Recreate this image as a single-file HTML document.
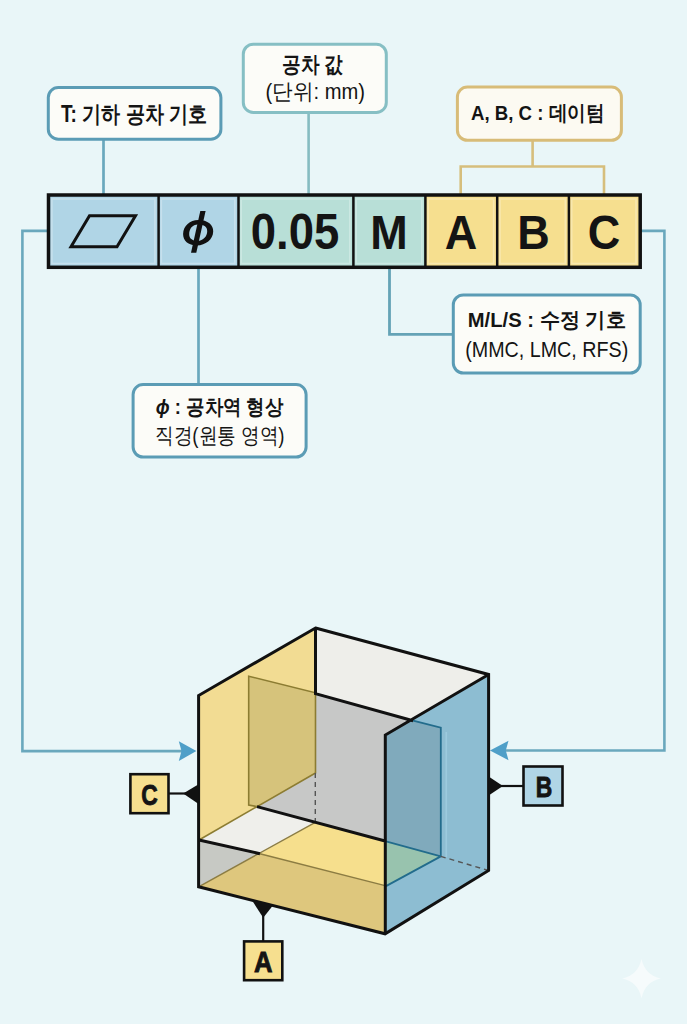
<!DOCTYPE html>
<html><head><meta charset="utf-8">
<style>
html,body{margin:0;padding:0;width:687px;height:1024px;overflow:hidden;background:#e9f6f8;}
svg{display:block;}
text{font-family:"Liberation Sans", sans-serif;fill:#141414;}
.b{font-weight:bold;}
</style></head>
<body>
<svg width="687" height="1024" viewBox="0 0 687 1024">
<rect x="0" y="0" width="687" height="1024" fill="#e9f6f8"/>

<!-- leader lines -->
<g fill="none">
<path d="M103.5 139 V195" stroke="#6aa8bd" stroke-width="2.7"/>
<path d="M308.6 112 V195" stroke="#86bcc1" stroke-width="2.6"/>
<path d="M532.6 139 V166.5 M460.7 195 V166.5 H604 V195" stroke="#d6be7c" stroke-width="2.6"/>
<path d="M198.5 268 V385" stroke="#6aa8bd" stroke-width="2.7"/>
<path d="M389.5 268 V334.3 H455" stroke="#65a3b6" stroke-width="2.8"/>
<path d="M48 230.9 H22.4 V751.1 H182" stroke="#6aa8bd" stroke-width="2.6"/>
<path d="M639 230.9 H664.4 V750.5 H505" stroke="#6aa8bd" stroke-width="2.6"/>
</g>
<path d="M196.4 751.1 L178.8 741.3 L181.5 751.1 L178.8 760.9 Z" fill="#4f9fc8"/>
<path d="M490 750.5 L508.5 740.7 L505.8 750.5 L508.5 760.3 Z" fill="#4f9fc8"/>

<!-- callout boxes -->
<rect x="48.3" y="87.6" width="172.6" height="51.6" rx="10" fill="#fcfcf8" stroke="#5b9cb5" stroke-width="3"/>
<text x="61" y="121.7" class="b" font-size="23" textLength="146" lengthAdjust="spacingAndGlyphs">T: 기하 공차 기호</text>

<rect x="243.3" y="44.2" width="143" height="68.2" rx="10" fill="#fcfcf8" stroke="#86bfc4" stroke-width="3"/>
<text x="282" y="72" class="b" font-size="22" textLength="61" lengthAdjust="spacingAndGlyphs">공차 값</text>
<text x="265.5" y="99" font-size="21.5" textLength="99.5" lengthAdjust="spacingAndGlyphs">(단위: mm)</text>

<rect x="457.4" y="87.1" width="164" height="53.2" rx="10" fill="#fcfaf2" stroke="#d8bc78" stroke-width="3"/>
<text x="471" y="120" class="b" font-size="21" textLength="133.5" lengthAdjust="spacingAndGlyphs">A, B, C : 데이텀</text>

<rect x="133.1" y="384.6" width="173" height="72.5" rx="10" fill="#fcfcf8" stroke="#5b9cb5" stroke-width="3"/>
<text x="155.8" y="413.8" class="b" font-size="21" textLength="127.5" lengthAdjust="spacingAndGlyphs"><tspan font-style="italic">ϕ</tspan> : 공차역 형상</text>
<text x="155" y="442.5" font-size="22" textLength="129.5" lengthAdjust="spacingAndGlyphs">직경(원통 영역)</text>

<rect x="453.3" y="295" width="186.9" height="78.1" rx="10" fill="#fcfcf8" stroke="#5b9cb5" stroke-width="3"/>
<text x="467.8" y="326.5" class="b" font-size="21" textLength="158" lengthAdjust="spacingAndGlyphs">M/L/S : 수정 기호</text>
<text x="465.2" y="357.3" font-size="22" textLength="163" lengthAdjust="spacingAndGlyphs">(MMC, LMC, RFS)</text>

<!-- feature control frame -->
<g>
<rect x="48.7" y="195" width="109.4" height="72.3" fill="#b0d5e6"/>
<rect x="158.1" y="195" width="79.9" height="72.3" fill="#b0d5e6"/>
<rect x="238" y="195" width="115" height="72.3" fill="#b8dfd7"/>
<rect x="353" y="195" width="72" height="72.3" fill="#b8dfd7"/>
<rect x="425" y="195" width="215" height="72.3" fill="#f6df8f"/>
<g fill="none" stroke="#ffffff" stroke-opacity="0.28" stroke-width="1.6"><rect x="51.9" y="199" width="103.0" height="64.5"/><rect x="161.3" y="199" width="73.5" height="64.5"/><rect x="241.2" y="199" width="108.6" height="64.5"/><rect x="356.2" y="199" width="65.6" height="64.5"/><rect x="428.2" y="199" width="65.4" height="64.5"/><rect x="500.0" y="199" width="65.3" height="64.5"/><rect x="571.7" y="199" width="64.3" height="64.5"/></g>
<rect x="48.5" y="195" width="591.7" height="72.3" fill="none" stroke="#111" stroke-width="3.5"/>
<path d="M158.6 195V267 M238.5 195V267 M353.4 195V267 M425.4 195V267 M497.2 195V267 M568.9 195V267" stroke="#111" stroke-width="2.5"/>
<path d="M71 246.8 L89.5 215.7 L135.5 215.7 L117 246.8 Z" fill="none" stroke="#111" stroke-width="3" stroke-linejoin="miter"/>
<g fill="#111"><path fill-rule="evenodd" d="M198.2 220.1 C208 220.1 213.4 225 213.2 231.5 C213 239.5 205.5 245.4 197 245.4 C188 245.4 183 240.5 183.1 234 C183.3 226 190 220.1 198.2 220.1 Z M197.8 224.6 C192.5 224.6 189.2 229 189.2 234.2 C189.2 238.3 192 240.8 197.5 240.8 C203.5 240.8 207.2 236 207.2 231.2 C207.2 227 204.5 224.6 197.8 224.6 Z"/><path d="M200.3 210.9 H205.6 L196.3 252.8 H191 Z"/></g>
<text transform="translate(295 249) scale(1 1.07)" text-anchor="middle" class="b" font-size="46" textLength="88.5" lengthAdjust="spacingAndGlyphs">0.05</text>
<text transform="translate(389 249) scale(1 1.06)" text-anchor="middle" class="b" font-size="45">M</text>
<text transform="translate(461 249) scale(1 1.06)" text-anchor="middle" class="b" font-size="45">A</text>
<text transform="translate(533.5 249) scale(1 1.06)" text-anchor="middle" class="b" font-size="45">B</text>
<text transform="translate(604 249) scale(1 1.06)" text-anchor="middle" class="b" font-size="45">C</text>
</g>

<!-- CUBE -->
<g id="cube">
<polygon points="315.5,628 488.6,674.5 413.1,720.7 315.5,693.6" fill="#eeeeea"/>
<polygon points="315.5,693.6 413.1,720.7 385.3,735 385.1,841.3 257,806.6 315.5,773" fill="#c7c8c7"/>
<polygon points="198.6,695.5 315.5,628 315.5,773 257,806.6 199,840" fill="#f2dc93"/>
<polygon points="248.7,676.2 315.5,692.8 315.5,773 257,806.6 248.7,805" fill="#d6c37b" stroke="#8c7c32" stroke-width="1.6"/>
<polygon points="199,840 257,806.6 315.3,822.4 259.9,853.7" fill="#efefeb"/>
<polygon points="315.3,822.4 385.1,841.3 385.1,885.6 259.9,853.7" fill="#f6df8d"/>
<polygon points="199,840 259.9,853.7 198.6,886.8" fill="#c7c9c4"/>
<polygon points="198.6,886.8 259.9,853.7 385.1,885.6 385.1,933.8" fill="#dec77d"/>
<polygon points="385.3,735 488.6,674.5 488.6,870.5 385.1,933.8" fill="#8dbdd2"/>
<polygon points="385.3,735 413.1,720.7 440.8,727.7 440.8,856.4 386,886.1" fill="#80aabc"/>
<polygon points="386,841.3 440,856 386,886.1" fill="#98c3ae"/>
<path d="M446.3,732 V857" stroke="#9ccade" stroke-width="1.6" fill="none"/>
<path d="M413.1,720.7 L440.8,727.7 V856.4 L386,886.1 M386,841.3 L440.8,856.4" stroke="#226c8c" stroke-width="1.8" fill="none"/>
<path d="M199,840 L259.9,853.7 L385.1,885.6 M198.6,886.8 L315.3,822.4" stroke="#8c7c42" stroke-width="1.4" fill="none"/>
<path d="M199,840 L257,806.6" stroke="#8c7c32" stroke-width="1.6" fill="none"/>
<path d="M315.3,773 V822 M440.8,856.4 L488.6,870.5" stroke="#555" stroke-width="1.4" stroke-dasharray="5,4" fill="none"/>
<path d="M315.5,628 L488.6,674.5 L488.6,870.5 L385.1,933.8 L198.6,886.8 L198.6,695.5 Z" stroke="#111" stroke-width="3" fill="none" stroke-linejoin="miter"/>
<path d="M315.5,628 V693.6 L413.1,720.7 M488.6,674.5 L385.3,735 V933.8 M257,806.6 L386,841.3 M199,840 L259.9,853.7" stroke="#111" stroke-width="3" fill="none"/>
</g>

<!-- datum symbols -->
<path d="M198.6 784.2 L183.2 793.5 L198.6 804 Z" fill="#111"/>
<path d="M168.5 793.5 H186" stroke="#111" stroke-width="2.2"/>
<rect x="130.4" y="774.2" width="38.1" height="39" fill="#f6df8f" stroke="#111" stroke-width="2.6"/>
<text x="149.5" y="805.2" text-anchor="middle" class="b" font-size="30" textLength="16.5" lengthAdjust="spacingAndGlyphs" stroke="#141414" stroke-width="0.9">C</text>

<path d="M488.6 776.6 L502.9 786 L488.6 795.6 Z" fill="#111"/>
<path d="M500 786 H523" stroke="#111" stroke-width="2.2"/>
<rect x="523.5" y="766.5" width="39" height="39" fill="#b0d5e6" stroke="#111" stroke-width="2.6"/>
<text x="544" y="796.7" text-anchor="middle" class="b" font-size="29" textLength="16.5" lengthAdjust="spacingAndGlyphs" stroke="#141414" stroke-width="0.9">B</text>

<path d="M251.5 899.6 L273.3 905.1 L263.2 917.7 Z" fill="#111"/>
<path d="M263.2 915 V941" stroke="#111" stroke-width="2.2"/>
<rect x="244.1" y="941.4" width="38.2" height="38.8" fill="#f6df8f" stroke="#111" stroke-width="2.6"/>
<text x="263.2" y="971.7" text-anchor="middle" class="b" font-size="29" textLength="18.5" lengthAdjust="spacingAndGlyphs" stroke="#141414" stroke-width="0.9">A</text>
<path d="M641.5 959 Q645 975 660.8 978.6 Q645 982 641.5 998.3 Q638 982 622.2 978.6 Q638 975 641.5 959 Z" fill="#f6fbfc"/>
</svg>
</body></html>
